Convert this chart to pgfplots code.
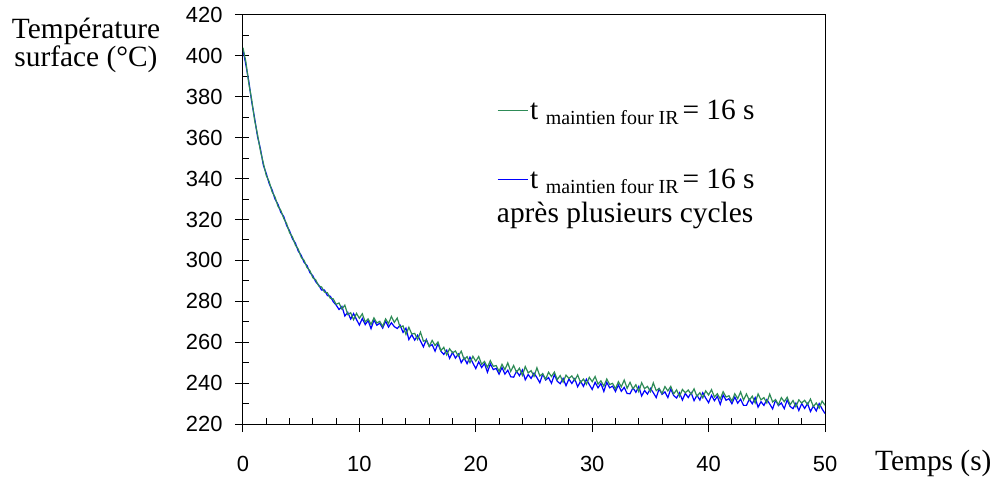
\documentclass[border=0pt]{standalone}
\usepackage{pgfplots}
\usepackage{pgfplotstable}
\pgfplotsset{compat=1.18}
\usepackage{fontspec}
\setmainfont{Liberation Serif}
\newfontfamily\arial{Liberation Sans}
\definecolor{cgreen}{RGB}{46,139,87}
\definecolor{cblue}{RGB}{0,0,255}

\pgfplotstableread{
t g b
0 404 403
0.25 397 395.5
0.5 386.5 387.5
0.75 378.5 377.5
1.0 368.5 369.5
1.25 361.5 360.5
1.5 353.5 354.5
1.75 347.5 346.5
2.0 341.5 342.5
2.25 338.5 337.5
2.5 333.5 334.5
2.75 331 330
3.0 326.5 327.5
3.25 324.5 323.5
3.5 320.5 321.5
3.75 318 317
4.0 313.5 314.5
4.25 311.5 310.5
4.5 307.5 308.5
4.75 305.5 304.5
5.0 301.5 302.5
5.25 300 299
5.5 296.5 297.5
5.75 295 294
6.0 291.5 292.5
6.25 290.5 289.5
6.5 287.5 288
6.75 287 285.5
7.0 284.5 285.5
7.25 284.2 282.8
7.5 281.5 282.5
7.75 281.2 279.8
8.0 278.5 278.2
8.25 279.2 276.0
8.5 276.2 277.5
8.75 278.1 272.8
9.0 273.5 274.6
9.25 274.4 271.3
9.5 271.0 274.0
9.75 274.1 271.1
10 271.7 268.4
10.25 273.9 271.6
10.5 269.9 268.6
10.75 271.4 270.6
11 268.7 266.6
11.25 271.9 270.8
11.5 269.4 268.3
11.75 270.2 269.3
12 267.7 266.9
12.25 271.4 270.3
12.5 269.1 267.4
12.75 272.6 269.5
13 269.7 267.6
13.25 271.8 266.7
13.5 267.3 268.3
13.75 268.0 264.8
14 263.8 266.9
14.25 267.3 261.3
14.5 264.0 263.7
14.75 264.3 261.0
15 261.3 263.4
15.25 264.9 260.6
15.5 260.5 257.7
15.75 261.0 261.3
16 257.9 258.0
16.25 260.9 258.8
16.5 258.4 255.6
16.75 260.1 259.3
17 255.9 255.6
17.25 257.5 254.0
17.5 253.8 256.1
17.75 256.8 252.1
18 254.8 255.0
18.25 255.7 252.2
18.5 253.2 254.2
18.75 255.6 250.0
19 251.5 252.3
19.25 252.9 249.5
19.5 250.0 252.7
19.75 253.1 249.8
20 250.7 247.1
20.25 253.0 250.4
20.5 249.2 247.6
20.75 250.6 249.5
21 247.7 245.3
21.25 251.0 249.4
21.5 248.2 246.6
21.75 248.6 247.2
22 245.7 244.4
22.25 249.2 247.6
22.5 246.6 244.4
22.75 249.9 246.3
23 245.7 243.1
23.25 248.6 242.9
23.5 245.3 245.8
23.75 247.3 243.6
24 243.8 246.4
24.25 248.1 241.6
24.5 245.0 244.2
24.75 246.1 242.3
25 243.3 244.9
25.25 247.5 242.7
25.5 243.5 240.2
25.75 244.6 244.4
26 241.9 241.5
26.25 245.3 242.7
26.5 243.2 239.9
26.75 245.4 244.1
27 241.7 240.9
27.25 243.7 239.7
27.5 240.5 242.3
27.75 243.9 238.7
28 242.3 242.0
28.25 243.5 239.8
28.5 241.3 242.1
28.75 244.0 238.2
29 240.3 240.9
29.25 242.0 238.4
29.5 239.4 241.9
29.75 242.8 239.3
30 240.7 236.9
30.25 243.2 240.4
30.5 239.5 237.7
30.75 241.1 239.8
31 238.5 235.9
31.25 242.0 240.4
31.5 239.3 237.7
31.75 239.9 238.5
32 237.2 235.9
32.25 240.7 239.1
32.5 238.2 236.0
32.75 241.5 237.9
33 237.5 234.9
33.25 240.4 234.8
33.5 237.2 237.7
33.75 239.2 235.5
34 235.8 238.4
34.25 240.2 233.7
34.5 237.3 236.4
34.75 238.4 234.6
35 235.8 237.4
35.25 240.1 235.3
35.5 236.3 232.9
35.75 237.4 237.2
36 234.9 234.5
36.25 238.3 235.7
36.5 236.2 232.9
36.75 238.4 237.1
37 234.7 233.9
37.25 236.7 232.7
37.5 233.5 235.3
37.75 236.9 231.7
38 235.3 235.0
38.25 236.6 232.9
38.5 234.5 235.3
38.75 237.2 231.4
39 233.5 234.1
39.25 235.3 231.7
39.5 232.8 235.3
39.75 236.2 232.7
40 234.2 230.4
40.25 236.8 234.0
40.5 233.2 231.4
40.75 234.8 233.5
41 232.2 229.6
41.25 235.8 234.2
41.5 233.2 231.6
41.75 233.8 232.4
42 231.2 229.9
42.25 234.8 233.2
42.5 232.4 230.2
42.75 235.7 232.1
43 231.7 229.1
43.25 234.7 229.1
43.5 231.6 232.1
43.75 233.6 229.9
44 230.3 232.9
44.25 234.7 228.2
44.5 231.8 230.9
44.75 232.9 229.1
45 230.3 231.9
45.25 234.6 229.8
45.5 230.8 227.4
45.75 231.9 231.7
46 229.4 229.0
46.25 232.9 230.3
46.5 230.9 227.5
46.75 233.1 231.8
47 229.4 228.6
47.25 231.5 227.5
47.5 228.4 230.2
47.75 231.8 226.6
48 230.3 230.0
48.25 231.6 227.6
48.5 229.5 230.0
48.75 232.2 226.1
49 228.5 228.8
49.25 230.3 226.4
49.5 227.8 230.0
49.75 231.2 227.4
50 229.2 225.1
}\datatable

\begin{document}
\begin{tikzpicture}
\begin{axis}[
  scale only axis, width=582bp, height=409bp,
  xmin=0, xmax=50, ymin=220, ymax=420,
  xtick={0,10,...,50}, ytick={220,240,...,420},
  minor x tick num=4, minor y tick num=1,
  tick align=center, major tick length=14bp, minor tick length=6bp,
  xtick pos=bottom, ytick pos=left,
  major x tick style={yshift=-1bp},
  major y tick style={xshift=-1bp},
  minor x tick style={yshift=3bp},
  minor y tick style={xshift=3bp},
  axis line style={line width=1bp},
  every tick/.style={black, line width=1bp},
  /pgf/number format/assume math mode=true,
  ticklabel style={font=\arial\fontsize{22}{26}\selectfont},
  yticklabel style={xshift=-10bp},
  xticklabel style={yshift=-22bp},
  clip mode=individual,
  reverse legend,
  legend style={draw=none, fill=none, at={(axis cs:21.8,379.4)}, anchor=north west,
    font=\fontsize{29.5}{34}\selectfont, row sep=44bp, inner sep=0pt,
    cells={anchor=west},
    /tikz/every even column/.append style={column sep=6bp}},
  legend image code/.code={\draw[#1, line width=1.3bp] (0bp,0bp) -- (30bp,0bp);},
]
\addplot[cblue, line width=1.2bp] table[x=t, y=b] {\datatable};
\addlegendentry{t {\fontsize{20}{22}\selectfont\raisebox{-5bp}[0pt][0pt]{maintien four IR}}\hspace{4bp}= 16 s}
\addplot[cgreen, line width=1.2bp] table[x=t, y=g] {\datatable};
\addlegendentry{t {\fontsize{20}{22}\selectfont\raisebox{-5bp}[0pt][0pt]{maintien four IR}}\hspace{4bp}= 16 s}
\node[anchor=base west, inner sep=0pt, font=\fontsize{29.5}{34}\selectfont] at (axis cs:21.8,318.3) {après plusieurs cycles};
\node[anchor=base west, inner sep=0pt, font=\fontsize{29.5}{34}\selectfont] at ([xshift=50bp,yshift=-46bp]rel axis cs:1,0) {Temps (s)};
\node[anchor=north, inner sep=0pt, align=center, font=\fontsize{29.5}{27}\selectfont] at ([xshift=-157bp,yshift=-3bp]rel axis cs:0,1) {Température\\surface (°C)};
\coordinate (bl) at (rel axis cs:0,0);
\coordinate (tr) at (rel axis cs:1,1);
\end{axis}
\path ([shift={(-243bp,-56bp)}]bl) rectangle ([shift={(174bp,15bp)}]tr);
\end{tikzpicture}
\end{document}
